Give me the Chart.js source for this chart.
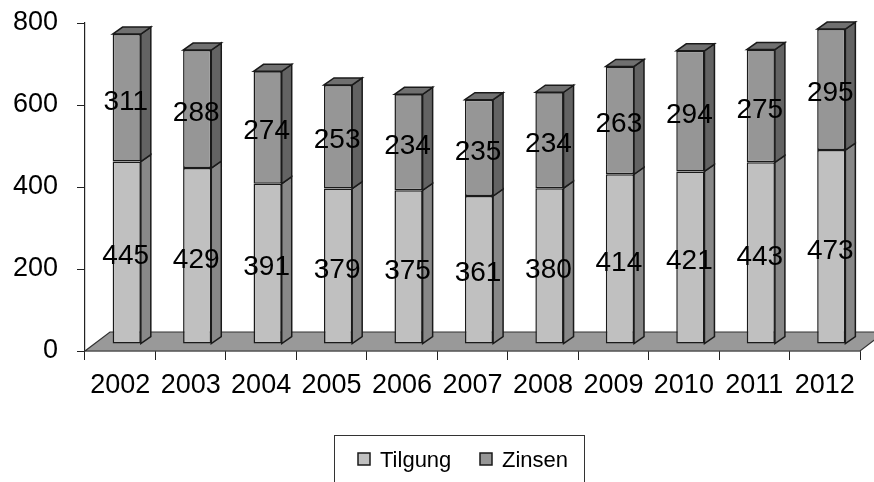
<!DOCTYPE html>
<html>
<head>
<meta charset="utf-8">
<script src="https://cdn.jsdelivr.net/npm/chart.js@4.4.1/dist/chart.umd.min.js"></script>
<style>
  html, body { margin: 0; padding: 0; background: #fff; }
  #wrap { width: 874px; height: 482px; }
</style>
</head>
<body>
<div id="wrap"><canvas id="chart" width="874" height="482"></canvas></div>
<script>
const years = ['2002', '2003', '2004', '2005', '2006', '2007', '2008', '2009', '2010', '2011', '2012'];
const tilgung = [445, 429, 391, 379, 375, 361, 380, 414, 421, 443, 473];
const zinsen = [311, 288, 274, 253, 234, 235, 234, 263, 294, 275, 295];
const seriesNames = ['Tilgung', 'Zinsen'];

const FONT = '"Liberation Sans", Arial, sans-serif';
const frontColors = ['#c0c0c0', '#969696'];
const sideColors = ['#888888', '#636363'];
const topColor = '#707070';

// bar offset into depth and bar side depth
const OFF_X = 6.5, OFF_Y = -7;
const SIDE_X = 10, SIDE_Y = 7;
const FLOOR_X = 25, FLOOR_Y = 19;

const threeD = {
  id: 'threeD',
  beforeDatasetsDraw(chart) {
    const ctx = chart.ctx;
    const xs = chart.scales.x;
    const y0 = chart.scales.y.getPixelForValue(0);
    // floor
    ctx.save();
    ctx.beginPath();
    ctx.moveTo(xs.left, y0);
    ctx.lineTo(xs.right, y0);
    ctx.lineTo(xs.right + FLOOR_X, y0 - FLOOR_Y);
    ctx.lineTo(xs.left + FLOOR_X, y0 - FLOOR_Y);
    ctx.closePath();
    ctx.fillStyle = '#999999';
    ctx.fill();
    ctx.lineWidth = 1.2;
    ctx.strokeStyle = '#333';
    ctx.stroke();
    ctx.restore();

    ctx.save();
    ctx.translate(OFF_X, OFF_Y);
  },
  afterDatasetsDraw(chart) {
    const ctx = chart.ctx;
    const last = chart.data.datasets.length - 1;
    ctx.lineWidth = 1.5;
    ctx.strokeStyle = '#1a1a1a';
    chart.data.datasets.forEach((ds, di) => {
      chart.getDatasetMeta(di).data.forEach(bar => {
        const r = bar.x + bar.width / 2;
        const l = bar.x - bar.width / 2;
        ctx.beginPath();
        ctx.moveTo(r, bar.y);
        ctx.lineTo(r + SIDE_X, bar.y - SIDE_Y);
        ctx.lineTo(r + SIDE_X, bar.base - SIDE_Y);
        ctx.lineTo(r, bar.base);
        ctx.closePath();
        ctx.fillStyle = sideColors[di];
        ctx.fill();
        ctx.stroke();
        if (di === last) {
          ctx.beginPath();
          ctx.moveTo(l, bar.y);
          ctx.lineTo(l + SIDE_X, bar.y - SIDE_Y);
          ctx.lineTo(r + SIDE_X, bar.y - SIDE_Y);
          ctx.lineTo(r, bar.y);
          ctx.closePath();
          ctx.fillStyle = topColor;
          ctx.fill();
          ctx.stroke();
        }
      });
    });
    // value labels
    ctx.fillStyle = '#000';
    ctx.font = '28px ' + FONT;
    ctx.textAlign = 'center';
    ctx.textBaseline = 'middle';
    chart.data.datasets.forEach((ds, di) => {
      chart.getDatasetMeta(di).data.forEach((bar, i) => {
        ctx.fillText(String(ds.data[i]), bar.x - 1, (bar.y + bar.base) / 2 + 4);
      });
    });
    ctx.restore();
  },
  afterDraw(chart) {
    // legend box
    const ctx = chart.ctx;
    ctx.save();
    ctx.strokeStyle = '#333';
    ctx.lineWidth = 1;
    ctx.strokeRect(334.5, 435.5, 250, 60);
    const items = [{ x: 358 }, { x: 480 }];
    ctx.font = '22px ' + FONT;
    ctx.textBaseline = 'alphabetic';
    ctx.textAlign = 'left';
    items.forEach((it, i) => {
      ctx.fillStyle = frontColors[i];
      ctx.fillRect(it.x, 453, 12, 12);
      ctx.lineWidth = 1.5;
      ctx.strokeStyle = '#1a1a1a';
      ctx.strokeRect(it.x, 453, 12, 12);
      ctx.fillStyle = '#000';
      ctx.fillText(chart.data.datasets[i].label, it.x + 22, 467);
    });
    ctx.restore();
  }
};

new Chart(document.getElementById('chart'), {
  type: 'bar',
  data: {
    labels: years,
    datasets: [
      { label: seriesNames[0], data: tilgung, backgroundColor: frontColors[0] },
      { label: seriesNames[1], data: zinsen, backgroundColor: frontColors[1] }
    ]
  },
  options: {
    responsive: false,
    animation: false,
    layout: { padding: { left: 6, right: 14, top: 23, bottom: 0 } },
    datasets: {
      bar: {
        categoryPercentage: 1,
        barPercentage: 0.4,
        borderWidth: 1.5,
        borderColor: '#1a1a1a',
        borderSkipped: false
      }
    },
    plugins: {
      legend: { display: false },
      tooltip: { enabled: false }
    },
    scales: {
      x: {
        stacked: true,
        afterFit(scale) { scale.height = 131; scale.paddingLeft = 0; scale.paddingRight = 0; },
        grid: { drawOnChartArea: false, tickLength: 9, color: '#222' },
        border: { display: true, color: '#222', width: 1.2 },
        ticks: { color: '#000', font: { family: FONT, size: 27 }, padding: 9, maxRotation: 0, autoSkip: false }
      },
      y: {
        stacked: true,
        min: 0,
        max: 800,
        afterFit(scale) { scale.width = 79; scale.paddingTop = 0; scale.paddingBottom = 0; },
        grid: { drawOnChartArea: false, tickLength: 8, color: '#222' },
        border: { display: true, color: '#222', width: 1.2 },
        ticks: { stepSize: 200, color: '#000', font: { family: FONT, size: 27 }, padding: 19 }
      }
    }
  },
  plugins: [threeD]
});
</script>
</body>
</html>
